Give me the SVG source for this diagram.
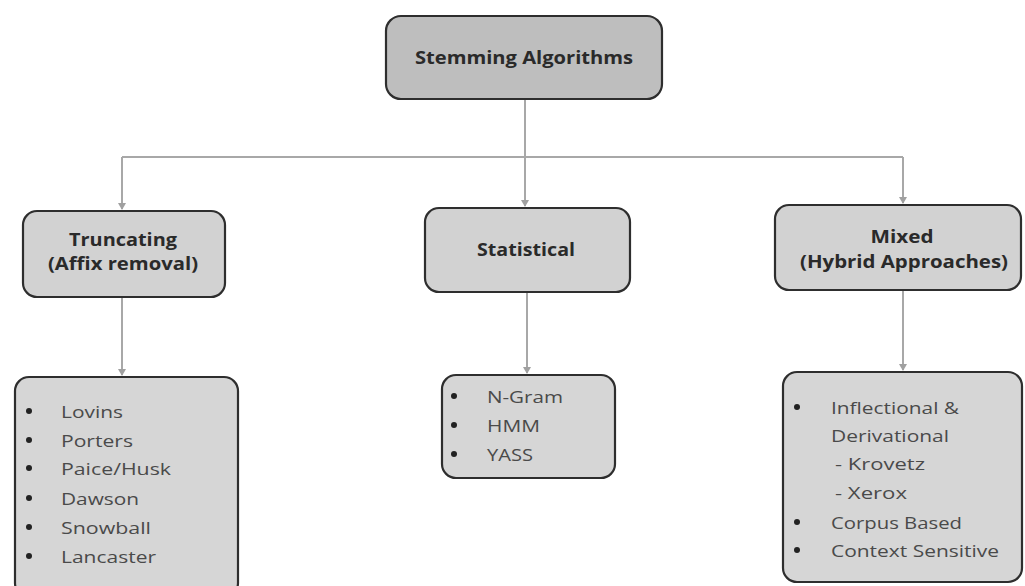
<svg xmlns="http://www.w3.org/2000/svg" width="1025" height="586" viewBox="0 0 1025 586">
<style>
.box{stroke:#2e2e2e;stroke-width:2.2}
.top{fill:#bebebe}
.mid{fill:#d2d2d2}
.low{fill:#d6d6d6}
.h{font-family:"Open Sans",sans-serif;font-weight:bold;font-size:17px;fill:#2a2a2a;text-anchor:middle}
.li{font-family:"Open Sans",sans-serif;font-size:17px;fill:#4a4a4a}
.conn{stroke:#a8a8a8;stroke-width:2;fill:none}
.bul{fill:#222222}
</style>
<defs>
<marker id="ar" markerWidth="8" markerHeight="8" refX="6" refY="4" orient="auto" markerUnits="userSpaceOnUse">
<path d="M0,0 L7,4 L0,8 z" fill="#a0a0a0"/>
</marker>
</defs>
<rect width="1025" height="586" fill="#ffffff"/>
<g id="connectors">
<line class="conn" x1="525" y1="100" x2="525" y2="206" marker-end="url(#ar)"/>
<line class="conn" x1="122" y1="157" x2="903" y2="157"/>
<line class="conn" x1="122" y1="157" x2="122" y2="209" marker-end="url(#ar)"/>
<line class="conn" x1="903" y1="157" x2="903" y2="203" marker-end="url(#ar)"/>
<line class="conn" x1="122" y1="298" x2="122" y2="375" marker-end="url(#ar)"/>
<line class="conn" x1="527" y1="293" x2="527" y2="373" marker-end="url(#ar)"/>
<line class="conn" x1="903" y1="291" x2="903" y2="370" marker-end="url(#ar)"/>
</g>
<g id="stemming">
<rect class="box top" x="386" y="16" width="276" height="83" rx="15"/>
<text class="h" x="524" y="64" textLength="218" lengthAdjust="spacingAndGlyphs">Stemming Algorithms</text>
</g>
<g id="truncating">
<rect class="box mid" x="23" y="211" width="202" height="86" rx="14"/>
<text class="h" x="123" y="246" textLength="108" lengthAdjust="spacingAndGlyphs">Truncating</text>
<text class="h" x="123" y="270" textLength="150" lengthAdjust="spacingAndGlyphs">(Affix removal)</text>
</g>
<g id="statistical">
<rect class="box mid" x="425" y="208" width="205" height="84" rx="14"/>
<text class="h" x="526" y="256" textLength="98" lengthAdjust="spacingAndGlyphs">Statistical</text>
</g>
<g id="mixed">
<rect class="box mid" x="775" y="205" width="246" height="85" rx="14"/>
<text class="h" x="902" y="243" textLength="63" lengthAdjust="spacingAndGlyphs">Mixed</text>
<text class="h" x="904" y="268" textLength="208" lengthAdjust="spacingAndGlyphs">(Hybrid Approaches)</text>
</g>
<g id="truncating-list">
<rect class="box low" x="15" y="377" width="223" height="220" rx="14"/>
<circle class="bul" cx="29" cy="411" r="3"/><circle class="bul" cx="29" cy="440" r="3"/><circle class="bul" cx="29" cy="468" r="3"/><circle class="bul" cx="29" cy="498" r="3"/><circle class="bul" cx="29" cy="527" r="3"/><circle class="bul" cx="29" cy="556" r="3"/>
<text class="li" x="61" y="418" textLength="62" lengthAdjust="spacingAndGlyphs">Lovins</text>
<text class="li" x="61" y="447" textLength="72" lengthAdjust="spacingAndGlyphs">Porters</text>
<text class="li" x="61" y="475" textLength="110" lengthAdjust="spacingAndGlyphs">Paice/Husk</text>
<text class="li" x="61" y="505" textLength="78" lengthAdjust="spacingAndGlyphs">Dawson</text>
<text class="li" x="61" y="534" textLength="90" lengthAdjust="spacingAndGlyphs">Snowball</text>
<text class="li" x="61" y="563" textLength="95" lengthAdjust="spacingAndGlyphs">Lancaster</text>
</g>
<g id="statistical-list">
<rect class="box low" x="442" y="375" width="173" height="103" rx="14"/>
<circle class="bul" cx="454" cy="396" r="3"/><circle class="bul" cx="454" cy="425" r="3"/><circle class="bul" cx="454" cy="454" r="3"/>
<text class="li" x="487" y="403" textLength="76" lengthAdjust="spacingAndGlyphs">N-Gram</text>
<text class="li" x="487" y="432" textLength="53" lengthAdjust="spacingAndGlyphs">HMM</text>
<text class="li" x="487" y="461" textLength="46" lengthAdjust="spacingAndGlyphs">YASS</text>
</g>
<g id="mixed-list">
<rect class="box low" x="783" y="372" width="239" height="210" rx="14"/>
<circle class="bul" cx="797" cy="407" r="3"/><circle class="bul" cx="797" cy="522" r="3"/><circle class="bul" cx="797" cy="550" r="3"/>
<text class="li" x="831" y="414" textLength="128" lengthAdjust="spacingAndGlyphs">Inflectional &amp;</text>
<text class="li" x="831" y="442" textLength="118" lengthAdjust="spacingAndGlyphs">Derivational</text>
<text class="li" x="835" y="470" textLength="90" lengthAdjust="spacingAndGlyphs">- Krovetz</text>
<text class="li" x="835" y="499" textLength="72" lengthAdjust="spacingAndGlyphs">- Xerox</text>
<text class="li" x="831" y="529" textLength="131" lengthAdjust="spacingAndGlyphs">Corpus Based</text>
<text class="li" x="831" y="557" textLength="168" lengthAdjust="spacingAndGlyphs">Context Sensitive</text>
</g>
</svg>
